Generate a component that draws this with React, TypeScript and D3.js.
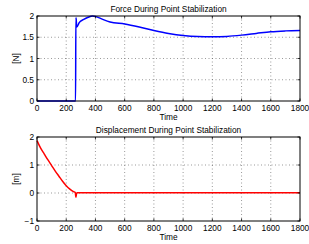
import { useEffect, useRef } from "react"
import * as d3 from "d3"

const xTicks = [0, 200, 400, 600, 800, 1000, 1200, 1400, 1600, 1800]
const forceTicks = [0, 0.5, 1, 1.5, 2]
const dispTicks = [-1, 0, 1, 2]

const forceTime = [0, 264, 266, 268, 272, 290, 320, 350, 380, 400, 450, 500, 600, 700, 800, 900, 1000, 1100, 1200, 1300, 1400, 1500, 1600, 1700, 1800]
const forceValue = [0, 0, 1.96, 1.93, 1.74, 1.85, 1.92, 1.97, 2.0, 1.99, 1.92, 1.86, 1.81, 1.74, 1.66, 1.59, 1.54, 1.515, 1.51, 1.52, 1.55, 1.59, 1.63, 1.65, 1.66]

const dispTime = [0, 25, 50, 75, 100, 125, 150, 175, 200, 225, 250, 262, 266, 270, 274, 300, 1800]
const dispValue = [1.87, 1.6, 1.39, 1.18, 0.98, 0.78, 0.6, 0.42, 0.26, 0.14, 0.05, 0.02, -0.15, -0.04, 0.01, 0.01, 0.01]

const FONT = "'Liberation Sans', Arial, sans-serif"
const FS = 8.3

interface PanelOpts {
  top: number
  bottom: number
  title: string
  ylabel: string
  yDomain: [number, number]
  yTicks: number[]
  times: number[]
  values: number[]
  color: string
}

export default function App() {
  const svgRef = useRef<SVGSVGElement>(null)

  useEffect(() => {
    if (!svgRef.current) return
    const svg = d3.select(svgRef.current)
    svg.selectAll("*").remove()

    const left = 37
    const right = 300

    const drawPanel = (o: PanelOpts) => {
      const x = d3.scaleLinear().domain([0, 1800]).range([left, right])
      const y = d3.scaleLinear().domain(o.yDomain).range([o.bottom, o.top])
      const g = svg.append("g")

      // white plot area
      g.append("rect")
        .attr("x", left).attr("y", o.top)
        .attr("width", right - left).attr("height", o.bottom - o.top)
        .attr("fill", "#fff")

      // grid
      const grid = g.append("g").attr("stroke", "#555").attr("stroke-width", 0.6).attr("stroke-dasharray", "1,2.5")
      xTicks.slice(1, -1).forEach((t) => {
        grid.append("line").attr("x1", x(t)).attr("x2", x(t)).attr("y1", o.top).attr("y2", o.bottom)
      })
      o.yTicks.slice(1, -1).forEach((t) => {
        grid.append("line").attr("x1", left).attr("x2", right).attr("y1", y(t)).attr("y2", y(t))
      })

      // line
      const line = d3.line<number>().x((_, i) => x(o.times[i])).y((d) => y(d)).curve(d3.curveMonotoneX)
      g.append("path")
        .attr("d", line(o.values))
        .attr("fill", "none")
        .attr("stroke", o.color)
        .attr("stroke-width", 1.5)
        .attr("stroke-linejoin", "round")

      // box
      g.append("rect")
        .attr("x", left).attr("y", o.top)
        .attr("width", right - left).attr("height", o.bottom - o.top)
        .attr("fill", "none").attr("stroke", "#000").attr("stroke-width", 1)

      // inward ticks
      const tk = 2.5
      const ticks = g.append("g").attr("stroke", "#000").attr("stroke-width", 0.8)
      xTicks.forEach((t) => {
        ticks.append("line").attr("x1", x(t)).attr("x2", x(t)).attr("y1", o.bottom).attr("y2", o.bottom - tk)
        ticks.append("line").attr("x1", x(t)).attr("x2", x(t)).attr("y1", o.top).attr("y2", o.top + tk)
      })
      o.yTicks.forEach((t) => {
        ticks.append("line").attr("x1", left).attr("x2", left + tk).attr("y1", y(t)).attr("y2", y(t))
        ticks.append("line").attr("x1", right).attr("x2", right - tk).attr("y1", y(t)).attr("y2", y(t))
      })

      // tick labels
      xTicks.forEach((t) => {
        g.append("text")
          .attr("x", x(t)).attr("y", o.bottom + 10)
          .attr("text-anchor", "middle")
          .attr("font-size", FS).attr("font-family", FONT)
          .text(String(t))
      })
      o.yTicks.forEach((t) => {
        g.append("text")
          .attr("x", left - 3).attr("y", y(t) + 3)
          .attr("text-anchor", "end")
          .attr("font-size", FS).attr("font-family", FONT)
          .text(t < 0 ? "\u2212" + Math.abs(t) : String(t))
      })

      // axis labels + title
      g.append("text")
        .attr("x", (left + right) / 2).attr("y", o.bottom + 19)
        .attr("text-anchor", "middle")
        .attr("font-size", FS).attr("font-family", FONT)
        .text("Time")
      g.append("text")
        .attr("transform", `translate(19, ${(o.top + o.bottom) / 2}) rotate(-90)`)
        .attr("text-anchor", "middle")
        .attr("font-size", FS).attr("font-family", FONT)
        .text(o.ylabel)
      g.append("text")
        .attr("x", (left + right) / 2).attr("y", o.top - 4)
        .attr("text-anchor", "middle")
        .attr("font-size", FS).attr("font-family", FONT)
        .text(o.title)
    }

    drawPanel({
      top: 16, bottom: 101,
      title: "Force During Point Stabilization", ylabel: "[N]",
      yDomain: [0, 2], yTicks: forceTicks,
      times: forceTime, values: forceValue, color: "#0000ff",
    })
    drawPanel({
      top: 137, bottom: 221,
      title: "Displacement During Point Stabilization", ylabel: "[m]",
      yDomain: [-1, 2], yTicks: dispTicks,
      times: dispTime, values: dispValue, color: "#ff0000",
    })
  }, [])

  return (
    <svg
      ref={svgRef}
      width={309}
      height={244}
      style={{ position: "absolute", left: 0, top: 0, background: "#fff" }}
    />
  )
}
